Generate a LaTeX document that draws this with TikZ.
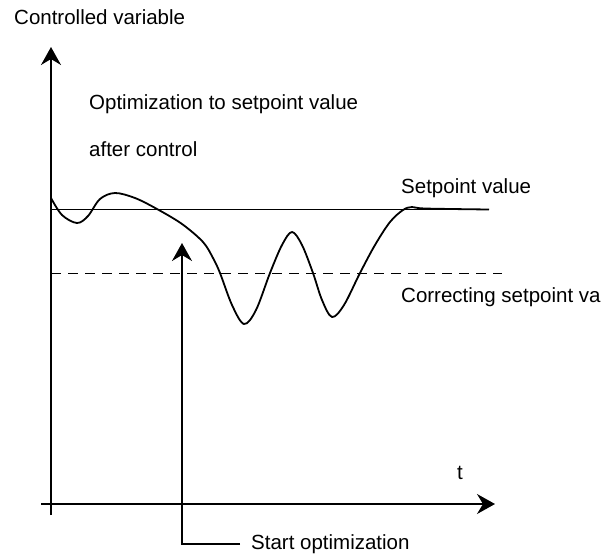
\documentclass[tikz,border=0pt]{standalone}
\usepackage{fontspec}
\setmainfont{Liberation Sans}
\usetikzlibrary{arrows.meta}

\begin{document}
\begin{tikzpicture}[x=1pt, y=-1pt,
		axis/.style={line width=1.8pt, -{Stealth[length=18pt, width=20pt, inset=6pt]}},
		lbl/.style={anchor=west, inner sep=0pt, font=\fontsize{20.5}{24}\selectfont}]
		\useasboundingbox (0,0) rectangle (616,558);

		% axes
		\draw[axis] (51,515) -- (51,47) coordinate (y axis);
		\draw[axis] (41,504) -- (495,504) coordinate (x axis);
		\node[lbl] (y label) at (14,17) {Controlled variable};
		\node[lbl] (t label) at (457,473) {t};

		% setpoint and corrected setpoint
		\draw[line width=1pt] (51,209) -- (489,209);
		\draw[line width=1pt, dash pattern=on 10pt off 7pt] (51,273) -- (502,273);
		\node[lbl] (setpoint) at (401,188) {Setpoint value};
		\node[lbl] (correcting) at (401,297) {Correcting setpoint va};

		\node[lbl] (title a) at (89,104) {Optimization to setpoint value};
		\node[lbl] (title b) at (89,149) {after control};

		% controlled variable
		\draw[line width=1.8pt, line join=round] plot[smooth, tension=0.55] coordinates {
			(51,198) (62,215) (77,223) (88,216) (100,199) (115,193) (135,198)
			(157,209) (182,224) (203,242) (213,258) (220,273) (232,305) (244,324)
			(256,310) (270,273) (282,245) (292,232) (302,245) (313,273) (322,300)
			(332,317) (344,305) (360,273) (375,245) (390,222) (403,210) (412,207)
			(425,208.5) (489,209.5)};

		% start of the optimization
		\node[lbl] (start) at (251,544) {Start optimization};
		\coordinate (start tip) at (182,243);
		\draw[axis] ([xshift=-11pt]start.west) -| (start tip);
	\end{tikzpicture}
\end{document}
